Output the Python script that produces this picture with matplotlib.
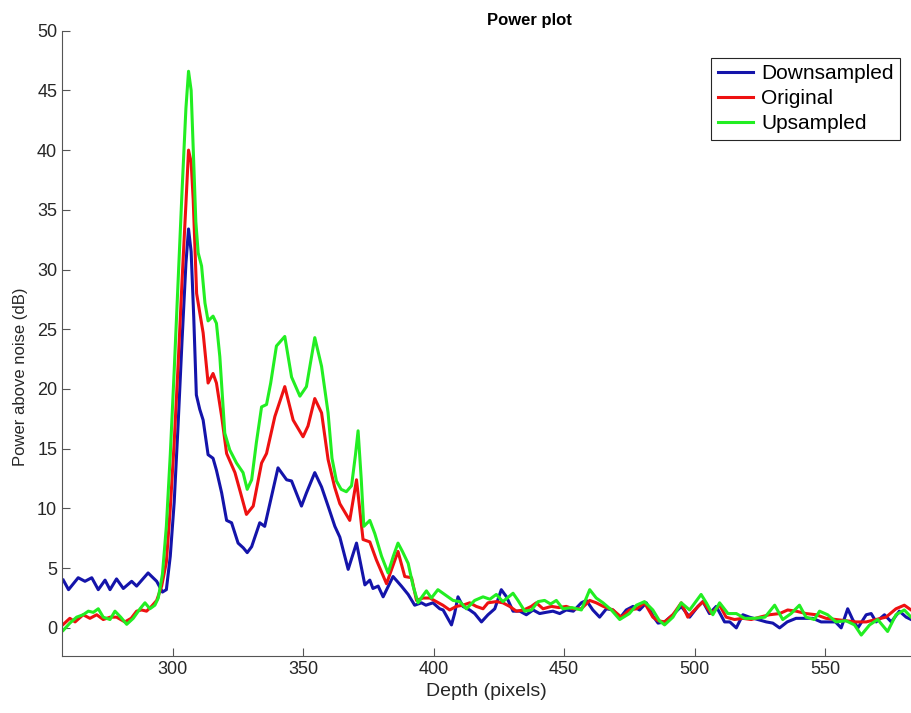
import matplotlib
matplotlib.use("Agg")
import matplotlib.pyplot as plt

# depth (pixels) and power above noise (dB)
depth_down = [
    258, 260, 263.7, 266.3, 268.9, 271.4, 274, 275.9, 278.4, 281,
    284.2, 286.1, 290.5, 293.8, 296, 297.5, 299, 300.5, 302, 303.5,
    305, 306, 307, 308, 309, 310.3, 311.6, 313.5, 315.4, 316.7,
    318.7, 320.6, 322.5, 325, 327, 328.5, 330.2, 333.3, 335.2, 337.8,
    340.3, 343.6, 345.5, 349.3, 351.2, 354.4, 357, 359.5, 362.1, 364,
    367.2, 370.4, 373.6, 375.5, 376.7, 378.7, 380.6, 384.4, 387.6, 390.2,
    392.7, 395.3, 397, 399.7, 402.3, 403.6, 406.8, 408, 409.3, 411.2,
    413.8, 415.7, 418.3, 420.8, 423.4, 425.9, 427.9, 430.4, 433, 435.5,
    438.1, 440.6, 443, 445.7, 448.3, 450.8, 453.5, 456.6, 458.5, 461,
    463.6, 466.2, 468.7, 471.3, 473.8, 476.4, 478.9, 481.5, 484, 486,
    488.5, 491.7, 494.9, 498.1, 501.3, 503.2, 505.7, 508.3, 511.5, 513.5,
    516, 518.5, 521, 524.2, 527.5, 530, 532.6, 535.5, 538.9, 542,
    545.3, 548.5, 551.5, 554, 556.2, 558.7, 560.6, 562.6, 565.8, 567.7,
    569.6, 572.8, 575.4, 578.5, 581.1, 583]
power_down = [
    4.0, 3.2, 4.2, 3.9, 4.2, 3.2, 4.0, 3.2, 4.1, 3.3,
    3.9, 3.5, 4.6, 3.9, 3.0, 3.2, 6.0, 10.5, 17.0, 24.0,
    30.5, 33.4, 31.5, 26.0, 19.5, 18.3, 17.4, 14.5, 14.2, 13.2,
    11.3, 9.0, 8.8, 7.1, 6.7, 6.3, 6.8, 8.8, 8.5, 11.0,
    13.4, 12.4, 12.3, 10.2, 11.3, 13.0, 11.8, 10.2, 8.5, 7.6,
    4.9, 7.1, 3.6, 4.0, 3.3, 3.5, 2.6, 4.3, 3.5, 2.8,
    1.9, 2.1, 1.9, 2.1, 1.6, 1.5, 0.25, 1.2, 2.6, 1.8,
    1.5, 1.2, 0.5, 1.1, 1.6, 3.2, 2.6, 1.4, 1.4, 1.1,
    1.5, 1.2, 1.3, 1.4, 1.2, 1.5, 1.4, 2.1, 2.3, 1.5,
    0.9, 1.6, 1.5, 0.8, 1.5, 1.8, 1.5, 2.1, 1.0, 0.4,
    0.5, 1.1, 1.8, 0.9, 1.8, 2.2, 1.2, 1.8, 0.5, 0.5,
    0.0, 1.1, 0.9, 0.7, 0.5, 0.4, 0.0, 0.5, 0.8, 0.8,
    0.8, 0.5, 0.5, 0.5, 0.0, 1.6, 0.7, 0.0, 1.1, 1.2,
    0.5, 1.1, 0.5, 1.4, 0.9, 0.7]

depth_orig = [
    258, 260.5, 262.5, 265.6, 268.2, 270.8, 273.3, 276, 278.4, 281.6,
    284, 286.1, 288, 289.9, 291.8, 293.8, 295.7, 297.5, 299, 300.5,
    302, 303.5, 305, 306, 307, 307.8, 309.1, 310.3, 311.6, 313.5,
    315.4, 316.7, 318.7, 320.6, 323.8, 325.7, 328.2, 330.8, 334, 335.9,
    339.1, 342.9, 346.1, 349.9, 351.8, 354.4, 357, 359.5, 362, 364,
    367.8, 370.4, 372.9, 375.5, 378, 381.9, 386.3, 388.9, 391.5, 393.4,
    395.9, 398.5, 401, 403.5, 406.1, 408.7, 411.2, 413.8, 416.3, 418.9,
    420.8, 424, 426.5, 429.1, 431.7, 434.5, 437.4, 439.3, 441.9, 445.1,
    448, 450.8, 453.5, 456.6, 459.8, 462.3, 465, 468.7, 471.9, 475,
    477.8, 480.8, 484, 486, 488.5, 491.7, 494.9, 497.4, 500, 503.2,
    506.4, 509.6, 512.1, 515.3, 518.5, 521.7, 525, 528.7, 532.6, 535.7,
    538.9, 542.7, 546.6, 550.4, 554.2, 558, 561.9, 565.8, 569.5, 573.4,
    577.2, 580.4, 583]
power_orig = [
    0.3, 0.8, 0.5, 1.1, 0.8, 1.1, 0.7, 0.9, 0.9, 0.5,
    0.8, 1.4, 1.5, 1.4, 1.8, 2.3, 3.5, 5.5, 10.0, 15.5,
    22.0, 29.0, 35.5, 40.0, 39.0, 35.8, 28.0, 26.4, 24.7, 20.5,
    21.3, 20.5, 17.7, 14.6, 13.0, 11.5, 9.5, 10.2, 13.8, 14.6,
    17.7, 20.2, 17.4, 16.0, 16.9, 19.2, 18.0, 14.1, 11.8, 10.4,
    9.0, 12.4, 7.4, 7.2, 5.7, 3.7, 6.4, 4.3, 4.2, 2.3,
    2.5, 2.5, 2.2, 1.9, 1.5, 1.8, 1.9, 2.1, 1.8, 1.6,
    2.1, 2.2, 2.1, 1.8, 1.4, 1.5, 1.8, 2.1, 1.6, 1.8,
    1.7, 1.8, 1.6, 1.6, 2.3, 2.1, 1.8, 1.5, 0.9, 1.5,
    1.6, 2.1, 0.9, 0.6, 0.5, 1.1, 2.1, 0.9, 1.5, 2.2,
    1.2, 1.9, 0.9, 0.7, 0.8, 0.7, 0.9, 1.1, 1.2, 1.5,
    1.4, 1.2, 1.1, 0.8, 0.7, 0.6, 0.5, 0.5, 0.7, 0.9,
    1.6, 1.9, 1.5]

depth_up = [
    258, 260.5, 263.1, 265.6, 267.6, 269.5, 271.4, 273.3, 275.9, 277.8,
    280, 282.3, 284.8, 287.4, 289.3, 291.2, 293.1, 294.4, 296, 297.5,
    299, 300.5, 302, 303.5, 305, 306, 307, 307.8, 308.8, 309.7,
    311, 312.3, 313.5, 315.4, 316.7, 318, 319.9, 321.8, 324.4, 326.9,
    328.5, 330.2, 332, 334, 335.9, 337.5, 339.7, 342.9, 345.5, 348.7,
    351.2, 354.4, 357, 359.5, 361, 362.7, 364.5, 366.5, 368.5, 370,
    371, 372.2, 373.2, 375.5, 377.4, 380, 382.5, 384.5, 386.3, 388,
    390.2, 392.1, 394, 395.5, 397.2, 399.1, 401.6, 404.2, 407.4, 410,
    412.5, 415.7, 418.9, 421.5, 424, 426.5, 430.4, 432.3, 434.9, 437.5,
    440, 442.5, 444.8, 447, 449.5, 453, 456.6, 459.8, 462.3, 464.9,
    468.1, 471.3, 475, 477.7, 480.8, 484, 486.5, 488.5, 491.7, 494.9,
    498.1, 502.5, 504.5, 507, 509.6, 512.8, 516, 519.2, 523, 527,
    530.7, 533.8, 537, 540.2, 542.7, 545.9, 547.9, 551, 554.2, 558,
    561.3, 563.9, 567.1, 570.2, 574, 577.2, 580.4, 583]
power_up = [
    -0.2, 0.4, 0.9, 1.1, 1.4, 1.3, 1.6, 0.9, 0.7, 1.4,
    0.9, 0.3, 0.8, 1.6, 2.1, 1.6, 1.9, 2.5, 4.5, 8.5,
    14.5, 21.5, 29.0, 36.5, 43.5, 46.6, 45.0, 40.0, 34.0, 31.4,
    30.3, 27.2, 25.7, 26.1, 25.5, 22.7, 16.3, 14.9, 13.8, 13.0,
    11.6, 12.4, 15.5, 18.5, 18.7, 20.5, 23.6, 24.4, 21.0, 19.4,
    20.2, 24.3, 21.9, 18.0, 14.2, 12.3, 11.6, 11.4, 11.9, 14.5,
    16.5, 12.5, 8.5, 9.0, 7.9, 6.0, 4.6, 6.0, 7.1, 6.4,
    5.4, 3.5, 2.1, 2.6, 3.1, 2.5, 3.2, 2.8, 2.3, 2.2,
    1.6, 2.3, 2.6, 2.4, 2.8, 2.2, 2.9, 2.3, 1.4, 1.5,
    2.2, 2.3, 2.0, 2.3, 1.6, 1.7, 1.5, 3.2, 2.5, 2.1,
    1.5, 0.7, 1.2, 1.9, 2.2, 1.5, 0.6, 0.25, 0.9, 2.1,
    1.5, 2.8, 2.1, 1.1, 2.1, 1.2, 1.2, 0.8, 0.8, 0.9,
    1.9, 0.7, 1.2, 1.9, 0.9, 0.7, 1.4, 1.1, 0.5, 0.6,
    0.25, -0.6, 0.25, 0.7, -0.3, 1.1, 1.5, 0.9]

x_ticks = [300, 350, 400, 450, 500, 550]
y_ticks = list(range(0, 51, 5))

plt.rcParams.update({
    "font.family": ["Liberation Sans", "DejaVu Sans"],
    "font.size": 13,
    "axes.edgecolor": "#555555",
    "xtick.color": "#555555",
    "ytick.color": "#555555",
    "xtick.labelcolor": "#262626",
    "ytick.labelcolor": "#262626",
})

fig = plt.figure(figsize=(9.12, 7.13), dpi=100)
ax = fig.add_axes([0.068, 0.080, 0.931, 0.877])

ax.plot(depth_down, power_down, color="#1414aa", lw=2.2, label="Downsampled")
ax.plot(depth_orig, power_orig, color="#ee1111", lw=2.2, label="Original")
ax.plot(depth_up, power_up, color="#22ee22", lw=2.2, label="Upsampled")

ax.set_xlim(257.5, 583)
ax.set_ylim(-2.35, 50)
ax.set_xticks(x_ticks)
ax.set_yticks(y_ticks)
ax.tick_params(direction="in", length=6, width=0.8, labelsize=13)
ax.spines["top"].set_visible(False)
ax.spines["right"].set_visible(False)

ax.set_title("Power plot", fontsize=12, fontweight="bold", x=0.55, pad=4)
ax.set_xlabel("Depth (pixels)", fontsize=14, color="#262626")
ax.set_ylabel("Power above noise (dB)", fontsize=12, color="#262626")
ax.yaxis.set_label_coords(-0.040, 0.446)

leg = ax.legend(loc="upper right", bbox_to_anchor=(0.987, 0.957),
                borderaxespad=0, fontsize=15, fancybox=False, framealpha=1,
                edgecolor="#262626", handlelength=1.7,
                borderpad=0.3, labelspacing=0.3, handletextpad=0.4)
leg.get_frame().set_linewidth(0.8)

fig.savefig("out.png", dpi=100)
